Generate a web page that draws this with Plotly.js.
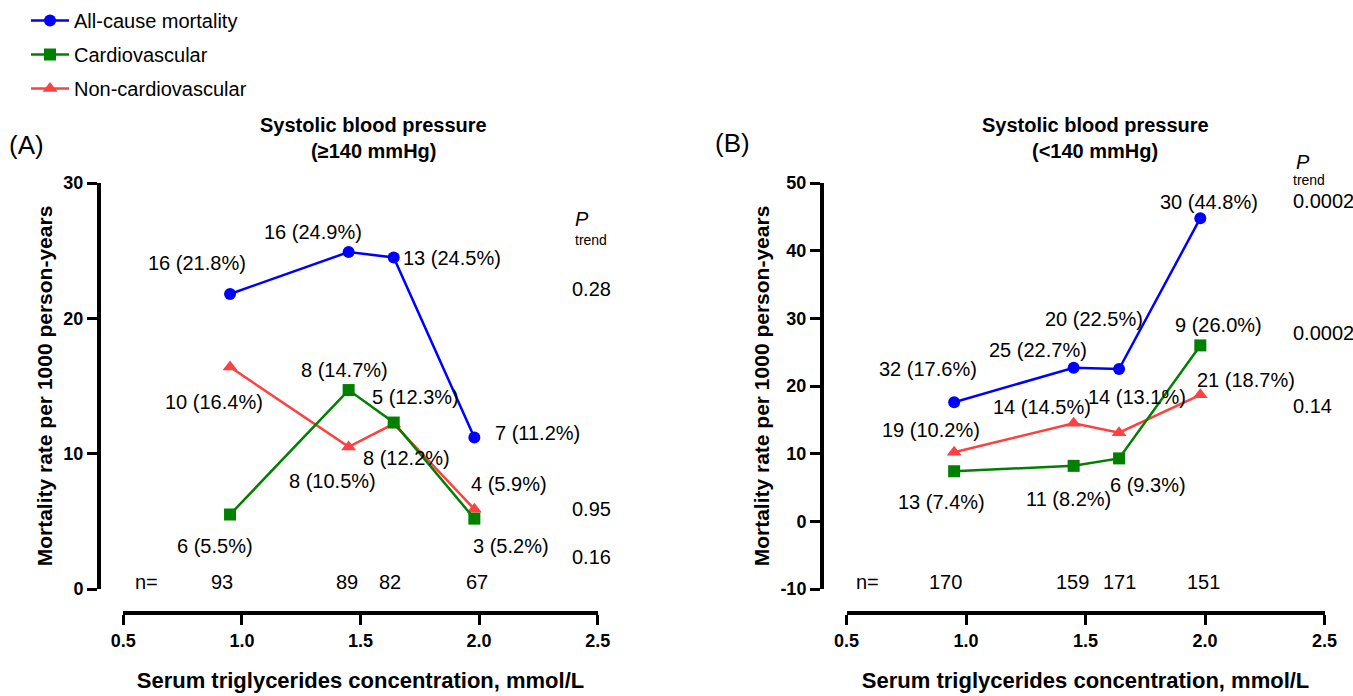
<!DOCTYPE html>
<html>
<head>
<meta charset="utf-8">
<script src="https://cdn.plot.ly/plotly-3.0.1.min.js"></script>
<style>html,body{margin:0;padding:0;background:#fff;}#chart{width:1353px;height:696px;}</style>
</head>
<body>
<div id="chart"></div>
<script>
// ---------- data ----------
const tgX = [0.95, 1.45, 1.64, 1.98];           // serum TG concentration (quartile medians)
const xTickVals = [0.5, 1.0, 1.5, 2.0, 2.5];
const xTickText = ['0.5', '1.0', '1.5', '2.0', '2.5'];
const yTickValsA = [0, 10, 20, 30];
const yTickTextA = ['0', '10', '20', '30'];
const yTickValsB = [-10, 0, 10, 20, 30, 40, 50];
const yTickTextB = ['-10', '0', '10', '20', '30', '40', '50'];

// Panel A: SBP >= 140 mmHg
const A_allRate = [21.8, 24.9, 24.5, 11.2];
const A_allDeaths = [16, 16, 13, 7];
const A_cvRate = [5.5, 14.7, 12.3, 5.2];
const A_cvDeaths = [6, 8, 5, 3];
const A_ncvRate = [16.4, 10.5, 12.2, 5.9];
const A_ncvDeaths = [10, 8, 8, 4];
const A_n = [93, 89, 82, 67];
const A_pTrend = ['0.28', '0.95', '0.16'];

// Panel B: SBP < 140 mmHg
const B_allRate = [17.6, 22.7, 22.5, 44.8];
const B_allDeaths = [32, 25, 20, 30];
const B_cvRate = [7.4, 8.2, 9.3, 26.0];
const B_cvDeaths = [13, 11, 6, 9];
const B_ncvRate = [10.2, 14.5, 13.1, 18.7];
const B_ncvDeaths = [19, 14, 14, 21];
const B_n = [170, 159, 171, 151];
const B_pTrend = ['0.0002', '0.0002', '0.14'];

const seriesNames = ['All-cause mortality', 'Cardiovascular', 'Non-cardiovascular'];

// ---------- styling / layout helpers ----------
const W = 1353, H = 696;
const px = x => x / W;
const py = y => 1 - y / H;
const FONT = '"Liberation Sans", Arial, Helvetica, sans-serif';
const BLUE = '#0000FF', GREEN = '#008000', RED = '#FF4040';

function trace(name, y, color, symbol, size, xa, ya, show, rank) {
  return {
    type: 'scatter', mode: 'lines+markers', name: name,
    x: tgX, y: y, xaxis: xa, yaxis: ya,
    line: {color: color, width: 2.5},
    marker: {color: color, symbol: symbol, size: size},
    showlegend: show, legendgroup: name, legendrank: rank,
    hoverinfo: 'x+y'
  };
}

const data = [
  trace(seriesNames[0], A_allRate, BLUE, 'circle', 12, 'x', 'y', true, 1),
  trace(seriesNames[2], A_ncvRate, RED, 'triangle-up', 13, 'x', 'y', true, 3),
  trace(seriesNames[1], A_cvRate, GREEN, 'square', 12, 'x', 'y', true, 2),
  trace(seriesNames[0], B_allRate, BLUE, 'circle', 12, 'x2', 'y2', false, 1),
  trace(seriesNames[2], B_ncvRate, RED, 'triangle-up', 13, 'x2', 'y2', false, 3),
  trace(seriesNames[1], B_cvRate, GREEN, 'square', 12, 'x2', 'y2', false, 2)
];

const lbl = (d, r) => d + ' (' + r.toFixed(1) + '%)';

// label anchor positions (pixels: left edge, vertical middle)
const posA = {
  all: [[147, 263], [263, 231.5], [402, 258], [494, 433]],
  cv:  [[176, 546], [300, 370], [371, 396.5], [472, 546]],
  ncv: [[163.5, 402], [288, 481], [362, 457.5], [470, 484]]
};
const posB = {
  all: [[877.5, 368.5], [987.5, 350], [1043.5, 318.5], [1158.5, 201.5]],
  cv:  [[897, 501.5], [1025, 498.5], [1108.5, 485], [1173.5, 325]],
  ncv: [[880.5, 430], [991.5, 406.5], [1086.5, 396.5], [1195.5, 379.5]]
};
const nRowA = {label: 146, xs: [221.7, 347.3, 390, 476.7]};
const nRowB = {label: 868, xs: [945.6, 1072.8, 1119.8, 1203.5]};
const nRowY = 581.5;

const annotations = [];
function addText(text, x, y, o) {
  o = o || {};
  annotations.push({
    text: text, xref: 'paper', yref: 'paper', x: px(x), y: py(y),
    xanchor: o.xanchor || 'left', yanchor: 'middle', showarrow: false,
    borderpad: 0, textangle: o.angle || 0,
    font: {family: FONT, size: o.size || 20, color: '#000',
           weight: o.weight || 'normal', style: o.style || 'normal'}
  });
}
function addSeriesLabels(deaths, rates, pos) {
  deaths.forEach((d, i) => addText(lbl(d, rates[i]), pos[i][0], pos[i][1]));
}
addSeriesLabels(A_allDeaths, A_allRate, posA.all);
addSeriesLabels(A_cvDeaths, A_cvRate, posA.cv);
addSeriesLabels(A_ncvDeaths, A_ncvRate, posA.ncv);
addSeriesLabels(B_allDeaths, B_allRate, posB.all);
addSeriesLabels(B_cvDeaths, B_cvRate, posB.cv);
addSeriesLabels(B_ncvDeaths, B_ncvRate, posB.ncv);

addText('n=', nRowA.label, nRowY, {xanchor: 'center'});
A_n.forEach((n, i) => addText(String(n), nRowA.xs[i], nRowY, {xanchor: 'center'}));
addText('n=', nRowB.label, nRowY, {xanchor: 'center'});
B_n.forEach((n, i) => addText(String(n), nRowB.xs[i], nRowY, {xanchor: 'center'}));

// P trend columns
addText('P', 574, 219, {style: 'italic'});
addText('trend', 574, 240, {size: 14});
[289.3, 509.3, 556.7].forEach((y, i) => addText(A_pTrend[i], 571, y));
addText('P', 1295, 162, {style: 'italic'});
addText('trend', 1292, 180, {size: 14});
[201, 333.3, 406].forEach((y, i) => addText(B_pTrend[i], 1291.5, y));

// panel labels and titles
addText('(A)', 8, 145, {size: 26});
addText('(B)', 714, 143, {size: 26});
addText('Systolic blood pressure', 373.5, 125, {xanchor: 'center', weight: 'bold'});
addText('(≥140 mmHg)', 373.5, 151.5, {xanchor: 'center', weight: 'bold'});
addText('Systolic blood pressure', 1095, 125, {xanchor: 'center', weight: 'bold'});
addText('(<140 mmHg)', 1095, 151.5, {xanchor: 'center', weight: 'bold'});

const tickFont = {family: FONT, size: 18, color: '#000', weight: 'bold'};
const xTitle = {text: 'Serum triglycerides concentration, mmol/L',
                font: {family: FONT, size: 22, color: '#000', weight: 'bold'}, standoff: 22};
const yTitle = {text: 'Mortality rate per 1000 person-years',
                font: {family: FONT, size: 21, color: '#000', weight: 'bold'}, standoff: 4};

function xAxis(d0, d1) {
  return {
    domain: [px(d0), px(d1)], range: [0.5, 2.5], anchor: 'free', position: py(613),
    showgrid: false, zeroline: false, showline: true, linecolor: '#000', linewidth: 4,
    ticks: 'outside', ticklen: 10, tickwidth: 3, tickcolor: '#000',
    tickvals: xTickVals, ticktext: xTickText, tickfont: tickFont,
    title: xTitle, fixedrange: true
  };
}
function yAxis(range, pos, tv, tt) {
  return {
    domain: [py(589), py(183)], range: range, anchor: 'free', position: px(pos),
    showgrid: false, zeroline: false, showline: true, linecolor: '#000', linewidth: 4,
    ticks: 'outside', ticklen: 10, tickwidth: 3, tickcolor: '#000',
    tickvals: tv, ticktext: tt,
    tickfont: tickFont, title: yTitle, fixedrange: true
  };
}

const layout = {
  width: W, height: H,
  margin: {l: 0, r: 0, t: 0, b: 0},
  paper_bgcolor: '#fff', plot_bgcolor: 'rgba(0,0,0,0)',
  font: {family: FONT, color: '#000'},
  showlegend: true,
  legend: {x: px(26), y: py(1), xanchor: 'left', yanchor: 'top',
           font: {family: FONT, size: 20, color: '#000'},
           bgcolor: 'rgba(0,0,0,0)', borderwidth: 0, tracegroupgap: 5,
           traceorder: 'grouped', itemwidth: 38},
  xaxis: xAxis(123.3, 597.7),
  yaxis: yAxis([0, 30], 99, yTickValsA, yTickTextA),
  xaxis2: xAxis(846.6, 1324.6),
  yaxis2: yAxis([-10, 50], 822, yTickValsB, yTickTextB),
  annotations: annotations
};

Plotly.newPlot('chart', data, layout, {displayModeBar: false, staticPlot: true});
</script>
</body>
</html>
